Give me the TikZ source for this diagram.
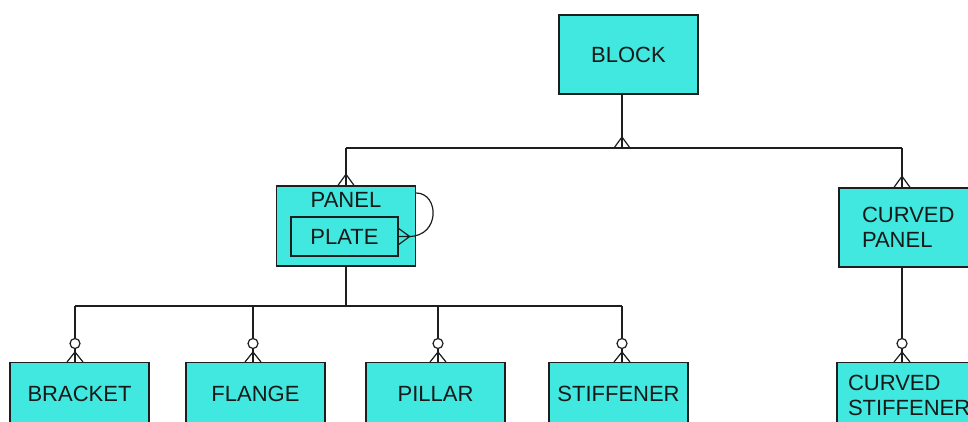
\documentclass[tikz,border=0pt]{standalone}
\usepackage{fontspec}
\setmainfont{Liberation Sans}
\usetikzlibrary{positioning}
\definecolor{erfill}{RGB}{64,232,224}
\definecolor{erline}{RGB}{30,30,30}

\begin{document}
\begin{tikzpicture}[
  x=1pt, y=-1pt,
  font=\fontsize{22}{25}\selectfont,
  entity/.style={draw=erline, line width=1.4pt, fill=erfill, minimum width=139pt,
                 minimum height=79pt, inner sep=0pt, text=black!90},
  leaf/.style={entity, minimum height=62pt, anchor=north},
  link/.style={draw=erline, line width=1.2pt},
  many/.pic={\draw[link] (-8,0) -- (0,-11) -- (8,0) (0,0) -- (0,-11);},
  zmany/.pic={\draw[link] (-8,0) -- (0,-10) -- (8,0) (0,0) -- (0,-10);
              \draw[link, fill=white] (0,-18.5) circle (5);}
]
\path[use as bounding box, fill=white] (0,0) rectangle (968,421);
\clip (0,0) rectangle (968,421);

% entities
\node[entity] (block) at (628.5,54.5) {BLOCK};
\node[entity, minimum height=80pt] (panel) at (346,226) {};
\node[below=7pt of panel.north, inner sep=0pt, text=black!90] (paneltxt) {PANEL};
\node[draw=erline, line width=1.4pt, minimum width=107pt, minimum height=39pt,
      inner sep=0pt, text=black!90] (plate) at (344.5,236.5) {PLATE};
\node[entity, align=left, text width=93pt, inner xsep=23pt] (cpanel)
  at (908.5,227.5) {CURVED\\PANEL};
\node[leaf, align=left, text width=117pt, inner xsep=11pt, minimum height=66pt]
  (cstiff) at (906.5,362) {CURVED\\STIFFENER};
\node[leaf] (bracket) at (79.5,362) {BRACKET};
\node[leaf] (flange) at (255.5,362) {FLANGE};
\node[leaf] (pillar) at (435.5,362) {PILLAR};
\node[leaf] (stiffener) at (618.5,362) {STIFFENER};

% upper relationship
\coordinate (busA) at (346,148);
\coordinate (busM) at (622,148);
\coordinate (busB) at (902,148);
\draw[link] (block.south -| busM) -- (busM);
\pic at (busM) {many};
\draw[link] (busA) -- (busB);
\draw[link] (busA) -- (panel.north);
\pic at (panel.north) {many};
\draw[link] (busB) -- (busB |- cpanel.north);
\pic at (busB |- cpanel.north) {many};
\draw[link] (cpanel.south -| busB) -- (cstiff.north -| busB);
\pic at (cstiff.north -| busB) {zmany};

% self loop
\coordinate (loopA) at ([yshift=33pt]panel.east);
\coordinate (loopB) at ([xshift=10pt]plate.east);
\draw[link] (loopA) .. controls +(23,0) and +(32,0) .. (loopB);
\pic[rotate=-90] at (plate.east) {many};

% lower relationship
\coordinate (subbus) at (346,306);
\draw[link] (panel.south) -- (subbus);
\foreach \n/\x in {bracket/75, flange/253, pillar/438, stiffener/622} {
  \coordinate (t-\n) at (\x,306);
  \draw[link] (t-\n) -- (t-\n |- \n.north);
  \pic at (t-\n |- \n.north) {zmany};
}
\draw[link] (t-bracket) -- (t-stiffener);
\end{tikzpicture}
\end{document}
